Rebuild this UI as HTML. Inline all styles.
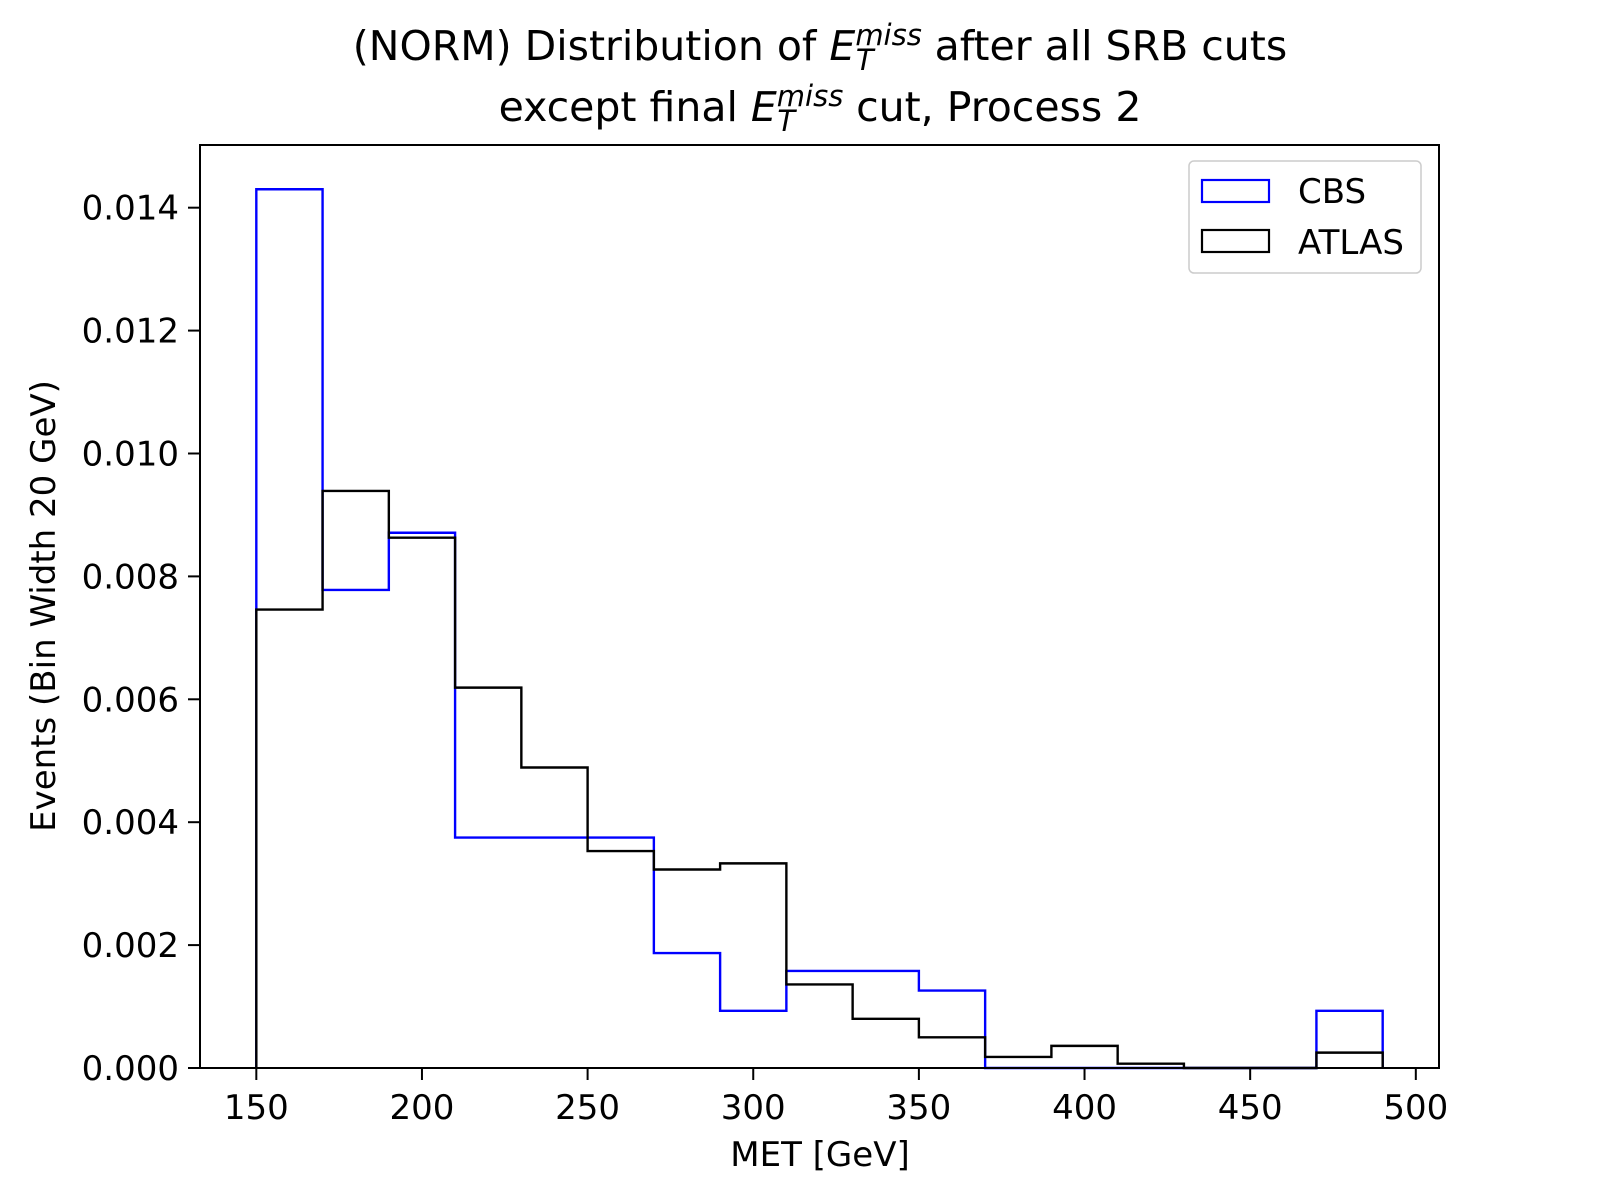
<!DOCTYPE html>
<html><head><meta charset="utf-8"><style>
body{margin:0;background:#fff;}
svg{display:block;font-family:"DejaVu Sans","Liberation Sans",sans-serif;}
</style></head><body>
<svg id="chart" width="1600" height="1200" viewBox="0 0 1600 1200">
<rect width="1600" height="1200" fill="#fff"/>
<g id="title" font-size="41" text-anchor="middle" fill="#000">
<text x="820" y="60">(NORM) Distribution of <tspan font-style="italic">E</tspan><tspan font-style="italic" font-size="29" dy="-15">miss</tspan><tspan font-style="italic" font-size="29" dx="-66" dy="25">T</tspan><tspan dy="-10" dx="48"> after all SRB cuts</tspan></text>
<text x="820" y="121">except final <tspan font-style="italic">E</tspan><tspan font-style="italic" font-size="29" dy="-15">miss</tspan><tspan font-style="italic" font-size="29" dx="-66" dy="25">T</tspan><tspan dy="-10" dx="48"> cut, Process 2</tspan></text>
</g>
<g id="plot"></g>
<text x="820" y="1166" font-size="34" text-anchor="middle">MET [GeV]</text>
<text transform="translate(55,606) rotate(-90)" font-size="34" text-anchor="middle">Events (Bin Width 20 GeV)</text>
<g>
<rect x="1189" y="161" width="232" height="112" rx="5" fill="#fff" stroke="#ccc" stroke-width="1.5"/>
<g>
<rect x="1202" y="180" width="67" height="22" fill="none" stroke="#0000ff" stroke-width="2.2"/>
<text x="1298" y="203" font-size="34">CBS</text></g>
<g>
<rect x="1202" y="230" width="67" height="22" fill="none" stroke="#000" stroke-width="2.2"/>
<text x="1298" y="254" font-size="34">ATLAS</text></g>
</g>
</svg>
<script>
const binEdges=[150,170,190,210,230,250,270,290,310,330,350,370,390,410,430,450,470,490];
const cbsValues=[0.0143,0.00778,0.00871,0.00375,0.00375,0.00375,0.00187,0.00093,0.00158,0.00158,0.00126,0,0,0,0,0,0.00093];
const atlasValues=[0.00746,0.00939,0.00863,0.00619,0.00489,0.00353,0.00323,0.00333,0.00136,0.0008,0.0005,0.00018,0.00036,0.00007,0,0,0.00025];
const xTicks=[150,200,250,300,350,400,450,500];
const yTicks=[0,0.002,0.004,0.006,0.008,0.010,0.012,0.014];
const yTickLabels=["0.000","0.002","0.004","0.006","0.008","0.010","0.012","0.014"];
const L=200,R=1439,T=145,B=1068;
const xMin=133,xMax=507,yMin=0,yMax=0.01502;
const xs=v=>L+(v-xMin)/(xMax-xMin)*(R-L);
const ys=v=>B-(v-yMin)/(yMax-yMin)*(B-T);
const NS="http://www.w3.org/2000/svg";
const g=document.getElementById('plot');
function mk(t,a){const e=document.createElementNS(NS,t);for(const k in a)e.setAttribute(k,a[k]);g.appendChild(e);return e;}
function step(vals,color,name){
 let d="M"+xs(binEdges[0])+","+ys(0);
 vals.forEach((v,i)=>{d+=" L"+xs(binEdges[i])+","+ys(v)+" L"+xs(binEdges[i+1])+","+ys(v);});
 d+=" L"+xs(binEdges[binEdges.length-1])+","+ys(0);
 const p=mk('path',{d:d,fill:'none',stroke:color,'stroke-width':2.4});
 
 
}
step(cbsValues,'#0000ff','cbs-series');
step(atlasValues,'#000000','atlas-series');
const fr=mk('rect',{x:L,y:T,width:R-L,height:B-T,fill:'none',stroke:'#000','stroke-width':2});


xTicks.forEach(v=>{
 const x=xs(v);
 const l=mk('line',{x1:x,x2:x,y1:B,y2:B+12,stroke:'#000','stroke-width':2});
 
 
 const t=mk('text',{x:x,y:B+51,'font-size':34,'text-anchor':'middle'});
 t.textContent=v;
 
 
});
yTicks.forEach((v,i)=>{
 const y=ys(v);
 const l=mk('line',{x1:L-12,x2:L,y1:y,y2:y,stroke:'#000','stroke-width':2});
 
 
 const t=mk('text',{x:L-21,y:y+12,'font-size':34,'text-anchor':'end'});
 t.textContent=yTickLabels[i];
 
 
});
</script>
</body></html>
